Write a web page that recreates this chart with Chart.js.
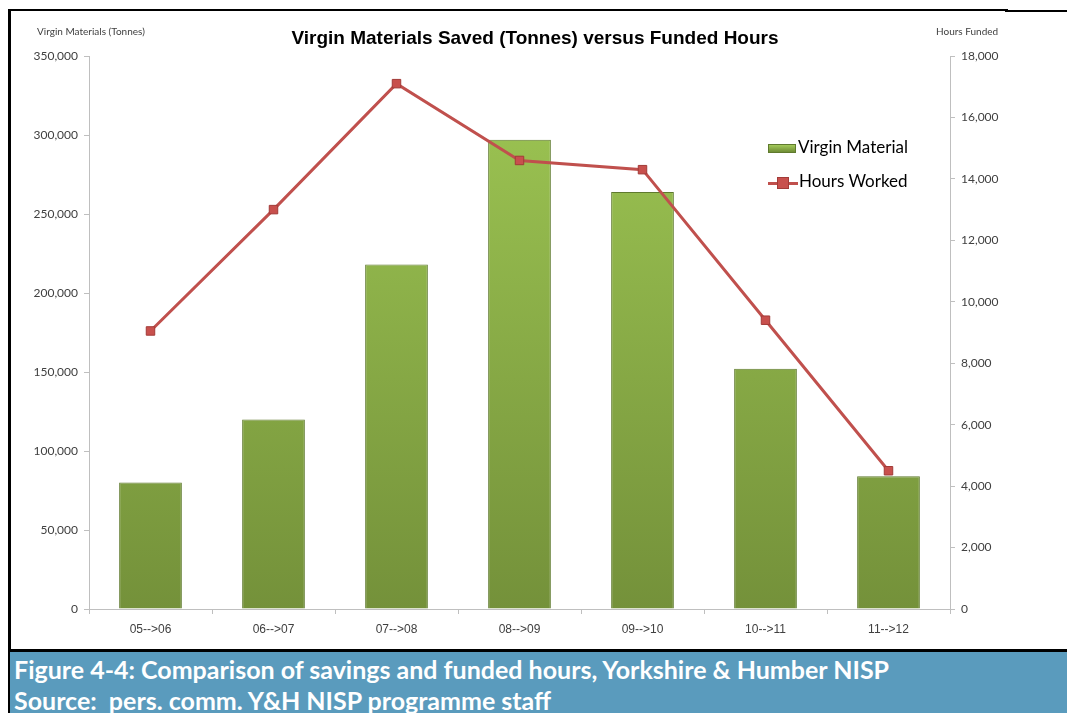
<!DOCTYPE html>
<html>
<head>
<meta charset="utf-8">
<script src="https://cdn.jsdelivr.net/npm/chart.js@4"></script>
<style>
body{margin:0;background:#fff;width:1067px;height:713px;overflow:hidden;position:relative;font-family:Lato,"Open Sans",sans-serif}
#wrap{position:absolute;left:0;top:0;width:1067px;height:652px}
.bl{position:absolute;background:#000}
#band{position:absolute;left:10px;top:652px;width:1057px;height:61px;background:#5a9bbd;color:#fff;font-family:Lato,sans-serif;font-weight:bold;font-size:25px;line-height:31px;padding-left:4px;box-sizing:border-box;padding-top:2px;white-space:nowrap}
.t{position:absolute;color:#404040;font-family:Lato,sans-serif;white-space:nowrap}
#title{position:absolute;left:0;width:1070px;top:27px;text-align:center;font:bold 19px "Liberation Sans",Arial,sans-serif;color:#000}
.leg{position:absolute;font-family:Lato,sans-serif;font-size:17px;color:#000;white-space:nowrap}
</style>
</head>
<body>
<div id="wrap"><canvas id="c"></canvas></div>
<div class="bl" style="left:8px;top:9px;width:1000px;height:2px"></div>
<div class="bl" style="left:1005px;top:10px;width:62px;height:2px"></div>
<div class="bl" style="left:8px;top:9px;width:3px;height:704px"></div>
<div class="bl" style="left:8px;top:649px;width:1059px;height:3px"></div>
<div id="band">Figure 4-4: Comparison of savings and funded hours, Yorkshire &amp; Humber NISP<br>Source:&nbsp; pers. comm. Y&amp;H NISP programme staff</div>
<div id="title">Virgin Materials Saved (Tonnes) versus Funded Hours</div>
<div class="t" style="left:37px;top:25px;font-size:10px">Virgin Materials (Tonnes)</div>
<div class="t" style="left:936px;top:25px;font-size:10px">Hours Funded</div>
<div class="leg" style="left:768px;top:136px">
  <span style="display:inline-block;width:28px;height:9px;background:linear-gradient(#a3c95a,#6f8d35);border:1px solid #5f7a2e;vertical-align:middle;margin-right:2px;box-sizing:border-box"></span>Virgin Material
</div>
<div class="leg" style="left:768px;top:170px">
  <span style="display:inline-block;position:relative;width:30px;height:12px;vertical-align:middle;margin-right:1px">
    <span style="position:absolute;left:0;top:5px;width:30px;height:3px;background:#c0504d"></span>
    <span style="position:absolute;left:9px;top:0;width:12px;height:12px;background:#c8504d;border:1px solid #a23b38;box-sizing:border-box"></span>
  </span>Hours Worked
</div>
<script>
const periods = ["05-->06","06-->07","07-->08","08-->09","09-->10","10-->11","11-->12"];
const virginMaterial = [80000,120000,218000,297000,264000,152000,84000];
const hoursWorked = [9050,13000,17100,14600,14300,9400,4500];

const canvas = document.getElementById('c');
canvas.width = 1067; canvas.height = 652;

function barGrad(ctx){
  const area = ctx.chart.chartArea;
  if(!area) return '#8db444';
  const g = ctx.chart.ctx.createLinearGradient(0, area.top, 0, area.bottom);
  g.addColorStop(0,'#9fc854');
  g.addColorStop(1,'#74913a');
  return g;
}

new Chart(canvas,{
  data:{
    labels:periods,
    datasets:[
      {
        type:'line',label:'Hours Worked',data:hoursWorked,yAxisID:'y1',
        borderColor:'#c0504d',borderWidth:3,
        pointStyle:'rect',pointRadius:6,pointBackgroundColor:'#c8504d',
        pointBorderColor:'#a23b38',pointBorderWidth:1,tension:0,order:0
      },
      {
        type:'bar',label:'Virgin Material',data:virginMaterial,yAxisID:'y',
        backgroundColor:barGrad,borderColor:'#5f7a2e',borderWidth:1,
        categoryPercentage:1,barPercentage:0.51,order:1
      }
    ]
  },
  options:{
    responsive:false,animation:false,
    layout:{padding:{top:56,left:0,right:0,bottom:0}},
    plugins:{legend:{display:false},tooltip:{enabled:false}},
    scales:{
      x:{
        offset:true,
        grid:{display:true,drawOnChartArea:false,offset:true,tickLength:5,color:'#bfbfbf'},
        border:{color:'#bfbfbf'},
        ticks:{color:'#404040',font:{family:'"Liberation Sans Narrow","Arial Narrow",sans-serif',size:12},padding:8},
        afterFit(s){s.height=43;}
      },
      y:{
        position:'left',min:0,max:350000,
        grid:{display:true,drawOnChartArea:false,tickLength:5,color:'#bfbfbf'},
        border:{color:'#bfbfbf'},
        ticks:{stepSize:50000,color:'#404040',font:{family:'Lato',size:12},padding:6,
          callback:v=>v.toLocaleString('en-US')},
        afterFit(s){s.width=89;}
      },
      y1:{
        position:'right',min:0,max:18000,
        grid:{display:true,drawOnChartArea:false,tickLength:5,color:'#bfbfbf'},
        border:{color:'#bfbfbf'},
        ticks:{stepSize:2000,color:'#404040',font:{family:'Lato',size:12},padding:6,
          callback:v=>v.toLocaleString('en-US')},
        afterFit(s){s.width=117;}
      }
    }
  }
});
</script>
</body>
</html>
